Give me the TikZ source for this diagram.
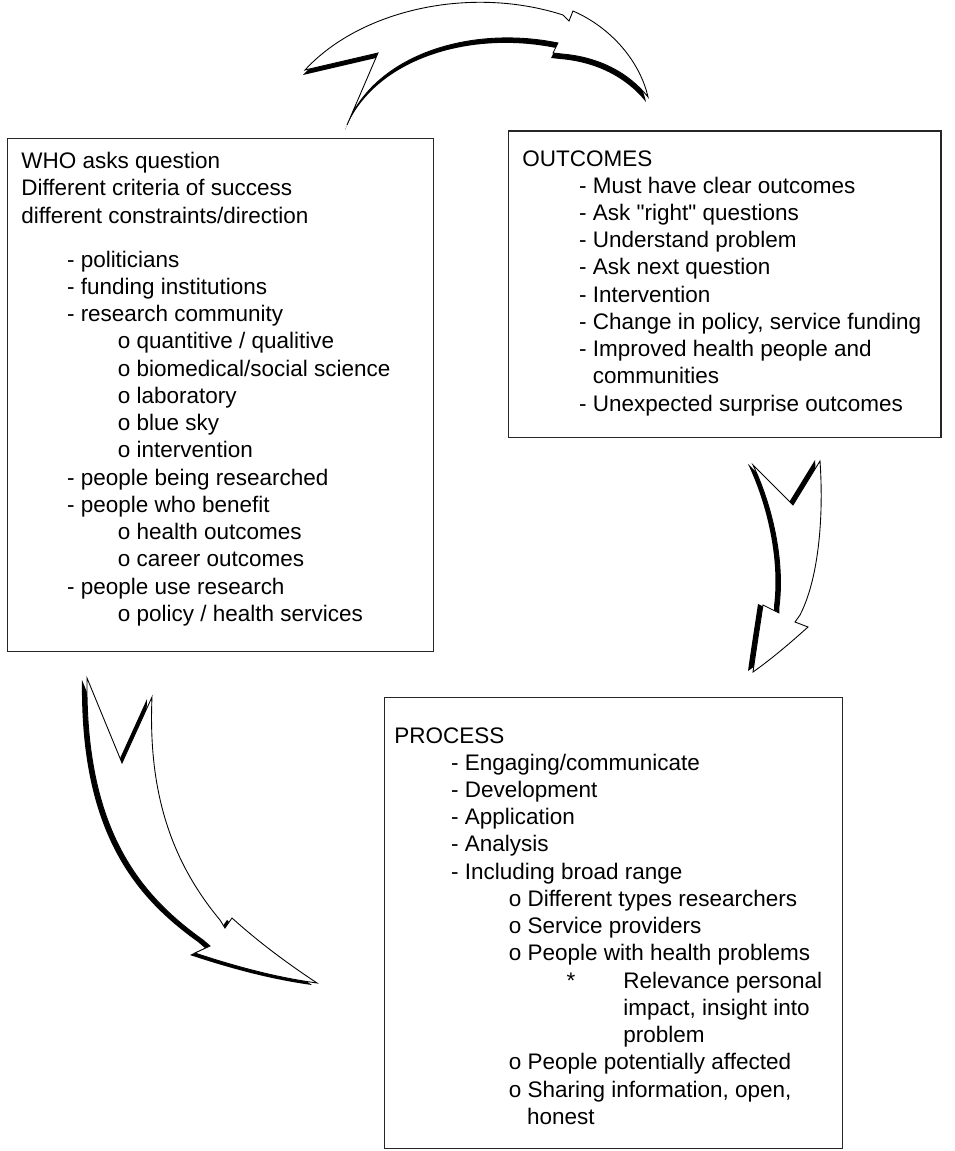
\documentclass[tikz,border=0pt]{standalone}
\usepackage{fontspec}
\setmainfont{Liberation Sans}
\newfontfamily\straightfont{Liberation Sans}
\usepackage{tikz}

% outlines of the three curved arrows (pixel grid, y downwards)
\newcommand{\pathtop}{(305,70) .. controls (360,10) and (470,-15) .. (563,15) -- (569,21) -- (573,11) .. controls (612,28) and (640,62) .. (648,97) .. controls (628,72) and (598,57) .. (562,54) -- (553,53) -- (558,43) .. controls (470,25) and (375,55) .. (347,125) -- (378,53) -- cycle}
\newcommand{\pathright}{(753,465) -- (793,505) -- (820,461) .. controls (824,520) and (818,580) .. (800,615) -- (795,622) -- (808,627) .. controls (788,645) and (770,660) .. (753,672) .. controls (756,650) and (760,625) .. (763,605) -- (779,613) -- (779,607) .. controls (785,560) and (772,505) .. (753,465) -- cycle}
\newcommand{\pathleft}{(87,678) -- (122,763) -- (152,697) .. controls (148,790) and (170,860) .. (220,920) -- (225,928) -- (232,918) .. controls (262,945) and (290,965) .. (317,983) .. controls (280,978) and (240,968) .. (195,953) -- (210,946) -- (203,940) .. controls (140,895) and (85,830) .. (87,678) -- cycle}

\begin{document}
\begin{tikzpicture}[x=0.02cm,y=-0.02cm]
\tikzstyle{panel}=[draw=black!85,line width=0.6pt,inner sep=0pt]
\tikzstyle{entries}=[anchor=north west,align=left,inner sep=0pt,font=\fontsize{12.8}{15.5}\selectfont]
\tikzstyle{arrowback}=[fill=black]
\tikzstyle{arrowface}=[fill=white,draw=black,line width=0.5pt]
\useasboundingbox (0,0) rectangle (955,1151);

% boxes
\node[panel,minimum width=8.54cm,minimum height=10.28cm] (who) at (220.5,395) {};
\node[panel,minimum width=8.66cm,minimum height=6.14cm] (outcomes) at (724.5,284.5) {};
\node[panel,minimum width=9.18cm,minimum height=9.04cm] (process) at (613.5,923) {};

% texts
\node[entries] (who text) at (21,152) {WHO asks question\\
Different criteria of success\\
different constraints/direction\\[9.6pt]
\hspace*{26pt}- politicians\\
\hspace*{26pt}- funding institutions\\
\hspace*{26pt}- research community\\
\hspace*{55pt}o quantitive / qualitive\\
\hspace*{55pt}o biomedical/social science\\
\hspace*{55pt}o laboratory\\
\hspace*{55pt}o blue sky\\
\hspace*{55pt}o intervention\\
\hspace*{26pt}- people being researched\\
\hspace*{26pt}- people who benefit\\
\hspace*{55pt}o health outcomes\\
\hspace*{55pt}o career outcomes\\
\hspace*{26pt}- people use research\\
\hspace*{55pt}o policy / health services};

\node[entries] (outcomes text) at (522,150) {OUTCOMES\\
\hspace*{32.3pt}- Must have clear outcomes\\
\hspace*{32.3pt}- Ask {\straightfont"right"} questions\\
\hspace*{32.3pt}- Understand problem\\
\hspace*{32.3pt}- Ask next question\\
\hspace*{32.3pt}- Intervention\\
\hspace*{32.3pt}- Change in policy, service funding\\
\hspace*{32.3pt}- Improved health people and\\
\hspace*{40.2pt}communities\\
\hspace*{32.3pt}- Unexpected surprise outcomes};

\node[entries] (process text) at (394,727) {PROCESS\\
\hspace*{32.3pt}- Engaging/communicate\\
\hspace*{32.3pt}- Development\\
\hspace*{32.3pt}- Application\\
\hspace*{32.3pt}- Analysis\\
\hspace*{32.3pt}- Including broad range\\
\hspace*{65.2pt}o Different types researchers\\
\hspace*{65.2pt}o Service providers\\
\hspace*{65.2pt}o People with health problems\\
\hspace*{98pt}\makebox[32.4pt][l]{*}Relevance personal\\
\hspace*{130.4pt}impact, insight into\\
\hspace*{130.4pt}problem\\
\hspace*{65.2pt}o People potentially affected\\
\hspace*{65.2pt}o Sharing information, open,\\
\hspace*{75.6pt}honest};

% arrows
\fill[arrowback,shift={(-2,5)}] \pathtop;
\filldraw[arrowface] \pathtop;
\fill[arrowback,shift={(-5,-1)}] \pathright;
\filldraw[arrowface] \pathright;
\fill[arrowback,shift={(-5,2)}] \pathleft;
\filldraw[arrowface] \pathleft;
\end{tikzpicture}
\end{document}
